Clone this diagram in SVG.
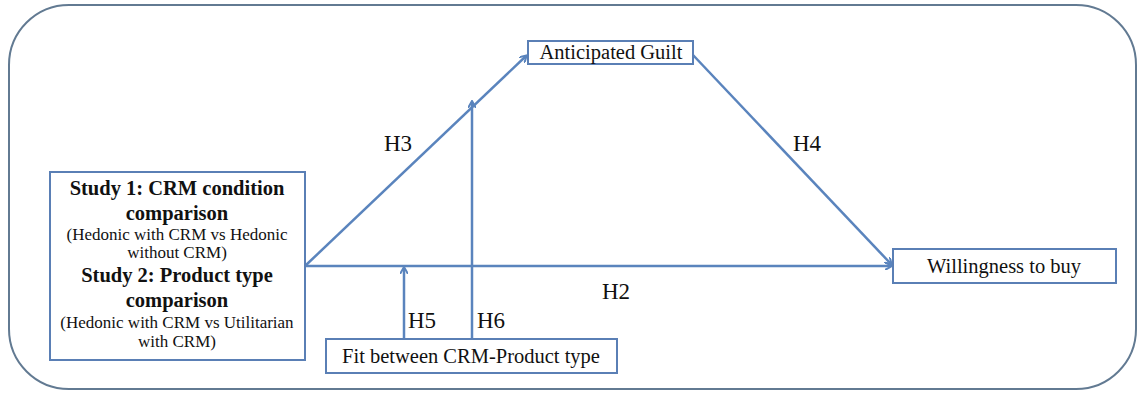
<svg xmlns="http://www.w3.org/2000/svg" width="1139" height="394" viewBox="0 0 1139 394">
<style>
.box{fill:#fff;stroke:#5a7fb5;stroke-width:2}
.ln{stroke:#5a84bd;stroke-width:2.5;fill:none}
.t{fill:#111}
.b{font-weight:bold;font-size:20.5px}
.s{font-size:17px}
.m{font-size:20.5px}
.h{font-size:23px}
</style>
<defs>
<marker id="ah" markerWidth="8" markerHeight="8" refX="6" refY="4" orient="auto" markerUnits="userSpaceOnUse">
<path d="M0,0 L7,4 L0,8" fill="none" stroke="#5a84bd" stroke-width="2"/>
</marker>
</defs>
<rect x="9" y="5" width="1127" height="384" rx="60" ry="60" fill="#fff" stroke="#627a92" stroke-width="2"/>
<g font-family="'Liberation Serif', 'Times New Roman', 'DejaVu Serif', serif">
<g id="connectors">
<line class="ln" x1="305" y1="266" x2="891" y2="266" marker-end="url(#ah)"/>
<line class="ln" x1="305" y1="266" x2="526" y2="56" marker-end="url(#ah)"/>
<line class="ln" x1="693" y1="55" x2="891" y2="264" marker-end="url(#ah)"/>
<line class="ln" x1="404" y1="339" x2="404" y2="268" marker-end="url(#ah)"/>
<line class="ln" x1="472" y1="339" x2="472" y2="102" marker-end="url(#ah)"/>
<text class="t h" x="384" y="151">H3</text>
<text class="t h" x="793" y="151">H4</text>
<text class="t h" x="602" y="299">H2</text>
<text class="t h" x="408" y="328">H5</text>
<text class="t h" x="477" y="328">H6</text>
</g>
<g id="study">
<rect class="box" x="50" y="172" width="255" height="188"/>
<text class="t b" x="177" y="195" text-anchor="middle">Study 1: CRM condition</text>
<text class="t b" x="177" y="220" text-anchor="middle">comparison</text>
<text class="t s" x="177" y="240" text-anchor="middle">(Hedonic with CRM vs Hedonic</text>
<text class="t s" x="177" y="258" text-anchor="middle">without CRM)</text>
<text class="t b" x="177" y="282" text-anchor="middle">Study 2: Product type</text>
<text class="t b" x="177" y="307" text-anchor="middle">comparison</text>
<text class="t s" x="177" y="328" text-anchor="middle">(Hedonic with CRM vs Utilitarian</text>
<text class="t s" x="177" y="347" text-anchor="middle">with CRM)</text>
</g>
<g id="guilt">
<rect class="box" x="528" y="41" width="165" height="23"/>
<text class="t m" x="611" y="59" text-anchor="middle">Anticipated Guilt</text>
</g>
<g id="willingness">
<rect class="box" x="893" y="249" width="223" height="34"/>
<text class="t m" x="1004" y="273" text-anchor="middle">Willingness to buy</text>
</g>
<g id="fit">
<rect class="box" x="326" y="339" width="291" height="34"/>
<text class="t m" x="471" y="363" text-anchor="middle">Fit between CRM-Product type</text>
</g>
</g>
</svg>
